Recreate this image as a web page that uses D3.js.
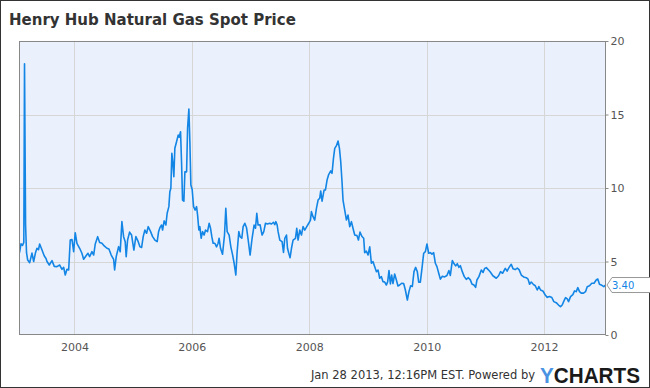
<!DOCTYPE html>
<html>
<head>
<meta charset="utf-8">
<script src="https://cdn.jsdelivr.net/npm/d3@7/dist/d3.min.js"></script>
<style>
  html, body { margin: 0; padding: 0; background: #fff; }
  svg { display: block; }
</style>
</head>
<body>
<svg id="chart" width="650" height="388"></svg>
<script>
const title = "Henry Hub Natural Gas Spot Price";
const footer = "Jan 28 2013, 12:16PM EST. Powered by";
const lastLabel = "3.40";
const lastValue = 3.40;
const yTicks = [0, 5, 10, 15, 20];
const xTicks = [2004, 2006, 2008, 2010, 2012];
const xTickLabels = ["2004", "2006", "2008", "2010", "2012"];
const xDomain = [2003.055, 2013.055];

// dates as decimal years
const years = [
2003.064,2003.089,2003.115,2003.137,2003.149,2003.167,2003.183,2003.203,2003.237,2003.276,
2003.305,2003.336,2003.361,2003.387,2003.407,2003.447,2003.486,2003.515,2003.532,2003.571,
2003.617,2003.656,2003.702,2003.748,2003.787,2003.816,2003.843,2003.872,2003.901,2003.928,
2003.957,2003.986,2004.013,2004.042,2004.088,2004.127,2004.156,2004.195,2004.230,2004.258,
2004.298,2004.327,2004.354,2004.395,2004.429,2004.468,2004.507,2004.553,2004.587,2004.626,
2004.667,2004.684,2004.711,2004.752,2004.779,2004.808,2004.837,2004.864,2004.881,2004.905,
2004.939,2004.973,2005.012,2005.046,2005.086,2005.115,2005.144,2005.171,2005.200,2005.229,
2005.256,2005.297,2005.331,2005.370,2005.409,2005.433,2005.455,2005.484,2005.501,2005.528,
2005.557,2005.579,2005.608,2005.625,2005.642,2005.659,2005.676,2005.693,2005.710,2005.739,
2005.767,2005.784,2005.807,2005.824,2005.841,2005.864,2005.881,2005.910,2005.927,2005.949,
2005.966,2005.983,2006.005,2006.029,2006.056,2006.080,2006.097,2006.119,2006.136,2006.158,
2006.182,2006.209,2006.233,2006.267,2006.294,2006.318,2006.340,2006.362,2006.391,2006.420,
2006.447,2006.464,2006.488,2006.522,2006.556,2006.578,2006.601,2006.635,2006.664,2006.692,
2006.720,2006.749,2006.771,2006.800,2006.822,2006.851,2006.873,2006.902,2006.931,2006.958,
2006.992,2007.026,2007.060,2007.084,2007.106,2007.128,2007.162,2007.196,2007.225,2007.254,
2007.288,2007.327,2007.356,2007.390,2007.412,2007.430,2007.452,2007.469,2007.498,2007.537,
2007.561,2007.583,2007.612,2007.629,2007.651,2007.673,2007.697,2007.724,2007.765,2007.787,
2007.809,2007.838,2007.867,2007.894,2007.923,2007.957,2007.991,2008.020,2008.037,2008.064,
2008.093,2008.122,2008.150,2008.178,2008.195,2008.218,2008.252,2008.275,2008.303,2008.332,
2008.366,2008.388,2008.412,2008.434,2008.463,2008.490,2008.514,2008.536,2008.558,2008.575,
2008.604,2008.633,2008.660,2008.689,2008.718,2008.745,2008.774,2008.813,2008.837,2008.864,
2008.898,2008.927,2008.944,2008.973,2009.001,2009.030,2009.058,2009.086,2009.115,2009.144,
2009.171,2009.200,2009.229,2009.256,2009.285,2009.314,2009.336,2009.358,2009.382,2009.404,
2009.426,2009.455,2009.484,2009.511,2009.540,2009.574,2009.608,2009.637,2009.671,2009.698,
2009.727,2009.756,2009.784,2009.812,2009.841,2009.864,2009.892,2009.920,2009.949,2009.978,
2010.005,2010.034,2010.063,2010.090,2010.119,2010.148,2010.175,2010.209,2010.233,2010.267,
2010.306,2010.345,2010.379,2010.403,2010.437,2010.459,2010.493,2010.522,2010.550,2010.573,
2010.607,2010.641,2010.675,2010.710,2010.744,2010.771,2010.805,2010.834,2010.856,2010.890,
2010.931,2010.961,2010.987,2011.016,2011.047,2011.081,2011.128,2011.186,2011.225,2011.259,
2011.293,2011.339,2011.370,2011.404,2011.441,2011.472,2011.506,2011.544,2011.574,2011.612,
2011.651,2011.697,2011.727,2011.753,2011.782,2011.816,2011.850,2011.884,2011.911,2011.940,
2011.979,2012.020,2012.054,2012.093,2012.132,2012.166,2012.207,2012.246,2012.280,2012.309,
2012.337,2012.366,2012.395,2012.417,2012.451,2012.490,2012.519,2012.548,2012.575,2012.604,
2012.633,2012.672,2012.706,2012.735,2012.774,2012.813,2012.851,2012.888,2012.915,2012.944,
2012.984,2013.018,2013.047
];

// Henry Hub spot price, $/MMBtu
const prices = [
5.6,6.2,6.1,6.3,18.45,7.5,5.6,5.1,4.92,5.57,
5.0,5.6,5.9,5.8,6.19,5.78,5.37,5.2,5.0,4.76,
5.06,4.67,4.65,4.76,4.47,4.6,4.08,4.47,4.42,6.46,
6.5,5.67,6.96,6.24,5.9,5.56,5.15,5.37,5.56,5.33,
5.67,5.44,6.19,6.69,6.3,6.24,6.06,5.9,5.85,5.44,
5.15,4.42,5.33,6.01,5.67,7.71,6.69,6.35,5.33,6.46,
7.0,6.8,5.78,6.69,6.35,6.0,5.96,6.69,7.14,6.92,
7.37,7.03,6.69,6.46,6.35,7.03,7.3,7.48,7.14,7.76,
7.48,8.28,8.73,9.75,9.98,12.36,11.7,10.77,12.7,13.15,
13.6,13.45,13.83,11.79,9.18,9.1,11.1,11.1,14.06,15.37,
13.15,10.2,9.9,8.73,8.5,8.73,8.17,7.14,7.37,6.58,
7.03,6.8,7.14,7.03,7.6,7.26,6.69,6.24,6.24,6.0,
6.24,6.58,5.9,5.49,6.8,8.62,7.03,6.8,6.0,5.49,
4.88,4.08,5.65,7.03,6.69,6.58,7.37,7.6,7.3,6.5,
5.44,6.58,7.48,7.26,8.28,7.48,7.5,6.8,7.03,7.6,
7.55,7.6,7.55,7.67,7.5,7.71,7.5,7.03,6.46,6.35,
5.62,6.58,6.8,5.9,5.56,5.26,5.9,6.46,6.58,7.26,
6.46,7.14,6.8,7.37,7.14,7.37,7.6,7.82,8.39,8.05,
7.82,8.62,9.18,9.3,9.8,9.1,9.86,9.86,10.54,10.93,
11.16,11.0,12.02,12.7,12.88,13.2,12.7,11.79,10.43,9.18,
8.5,7.82,8.16,7.37,7.71,7.26,6.8,6.76,6.46,7.0,
6.7,6.58,5.6,5.7,5.44,6.0,4.88,4.99,4.65,4.31,
4.42,3.86,3.97,3.63,3.6,3.4,3.63,4.38,3.47,4.08,
3.5,4.15,3.74,3.33,3.4,3.52,3.5,3.06,2.38,2.95,
3.35,3.3,4.31,4.6,4.3,3.6,3.6,4.53,5.56,5.67,
6.19,5.56,5.6,5.5,5.6,4.88,4.65,4.15,3.8,4.0,
3.95,4.05,4.38,4.05,5.06,4.9,4.7,4.85,4.6,4.72,
4.31,3.97,3.79,3.9,3.75,3.47,3.4,3.24,3.74,3.97,
4.42,4.25,4.53,4.58,4.45,4.3,4.03,3.86,4.03,4.31,
4.2,4.53,4.35,4.6,4.81,4.5,4.45,4.55,4.45,4.08,
3.95,3.9,3.8,3.45,3.6,3.45,3.35,3.06,3.3,3.06,
3.0,2.72,2.56,2.62,2.55,2.27,2.2,2.04,1.93,2.04,
2.3,2.54,2.45,2.27,2.61,2.75,3.0,2.95,3.22,2.95,
2.85,2.85,2.95,3.29,3.35,3.52,3.52,3.74,3.81,3.45,
3.38,3.29,3.4
];

const W = 650, H = 388;
const plot = { left: 19, right: 606, top: 41, bottom: 335 };

const svg = d3.select("#chart");

// outer border
svg.append("rect")
  .attr("x", 0.5).attr("y", 0.5).attr("width", W - 1).attr("height", H - 1)
  .attr("fill", "#fff").attr("stroke", "#333").attr("stroke-width", 1);

// title
svg.append("text")
  .attr("x", 9).attr("y", 25)
  .attr("font-family", "DejaVu Sans, sans-serif")
  .attr("font-size", 15).attr("font-weight", "bold")
  .attr("fill", "#333")
  .text(title);

const x = d3.scaleLinear().domain(xDomain).range([plot.left, plot.right]);
const y = d3.scaleLinear().domain([0, 20]).range([plot.bottom, plot.top]);

// plot background
svg.append("rect")
  .attr("x", plot.left).attr("y", plot.top)
  .attr("width", plot.right - plot.left).attr("height", plot.bottom - plot.top)
  .attr("fill", "#eaf1fd");

// gridlines
svg.append("g").selectAll("line").data(yTicks.filter(d => d > 0 && d < 20)).join("line")
  .attr("x1", plot.left).attr("x2", plot.right)
  .attr("y1", d => Math.round(y(d)) + 0.5).attr("y2", d => Math.round(y(d)) + 0.5)
  .attr("stroke", "#d6d6d6").attr("stroke-width", 1);
svg.append("g").selectAll("line").data(xTicks).join("line")
  .attr("x1", d => Math.round(x(d)) + 0.5).attr("x2", d => Math.round(x(d)) + 0.5)
  .attr("y1", plot.top).attr("y2", plot.bottom)
  .attr("stroke", "#d6d6d6").attr("stroke-width", 1);

// line
svg.append("clipPath").attr("id", "clip").append("rect")
  .attr("x", plot.left).attr("y", plot.top)
  .attr("width", plot.right - plot.left).attr("height", plot.bottom - plot.top);

const data = years.map((t, i) => ({ t, v: prices[i] }));
svg.append("path")
  .datum(data)
  .attr("clip-path", "url(#clip)")
  .attr("fill", "none")
  .attr("stroke", "#1385e5")
  .attr("stroke-width", 1.6)
  .attr("stroke-linejoin", "round")
  .attr("d", d3.line().x(d => x(d.t)).y(d => y(d.v)));

// plot frame
svg.append("rect")
  .attr("x", plot.left + 0.5).attr("y", plot.top + 0.5)
  .attr("width", plot.right - plot.left - 1).attr("height", plot.bottom - plot.top - 1)
  .attr("fill", "none").attr("stroke", "#888").attr("stroke-width", 1);

// right axis
const yAxis = d3.axisRight(y).tickValues(yTicks).tickSize(3).tickPadding(2).tickFormat(d3.format("d"));
const gy = svg.append("g").attr("transform", `translate(${plot.right - 0.5},0)`).call(yAxis);
gy.select(".domain").remove();
gy.selectAll("line").attr("stroke", "#888");
gy.selectAll("text").attr("font-family", "DejaVu Sans, sans-serif").attr("font-size", 11).attr("fill", "#555");

// bottom axis
const xAxis = d3.axisBottom(x).tickValues(xTicks).tickSize(0).tickPadding(8)
  .tickFormat((d, i) => xTickLabels[i]);
const gx = svg.append("g").attr("transform", `translate(0,${plot.bottom})`).call(xAxis);
gx.select(".domain").remove();
gx.selectAll("text").attr("font-family", "DejaVu Sans, sans-serif").attr("font-size", 11).attr("fill", "#555");

// last value callout
const ly = y(lastValue);
const bx = plot.right + 1;
svg.append("path")
  .attr("d", `M${bx},${ly} L${bx + 5},${ly - 7.5} L${W + 2},${ly - 7.5} L${W + 2},${ly + 7.5} L${bx + 5},${ly + 7.5} Z`)
  .attr("fill", "#fff").attr("stroke", "#999").attr("stroke-width", 1);
svg.append("text")
  .attr("x", bx + 5).attr("y", ly).attr("dy", "0.35em")
  .attr("font-family", "DejaVu Sans, sans-serif").attr("font-size", 10)
  .attr("fill", "#1385e5")
  .text(lastLabel);

// footer
svg.append("text")
  .attr("x", 535).attr("y", 379)
  .attr("text-anchor", "end")
  .attr("font-family", "DejaVu Sans, sans-serif").attr("font-size", 11.5)
  .attr("fill", "#333")
  .text(footer);

const logo = svg.append("text")
  .attr("x", 540).attr("y", 383)
  .attr("font-family", "Liberation Sans, Arial, sans-serif")
  .attr("font-size", 22).attr("font-weight", "bold")
  .attr("textLength", 100).attr("lengthAdjust", "spacingAndGlyphs");
logo.append("tspan").attr("fill", "#4a93e3").text("Y");
logo.append("tspan").attr("fill", "#1a1a1a").text("CHARTS");
</script>
</body>
</html>
